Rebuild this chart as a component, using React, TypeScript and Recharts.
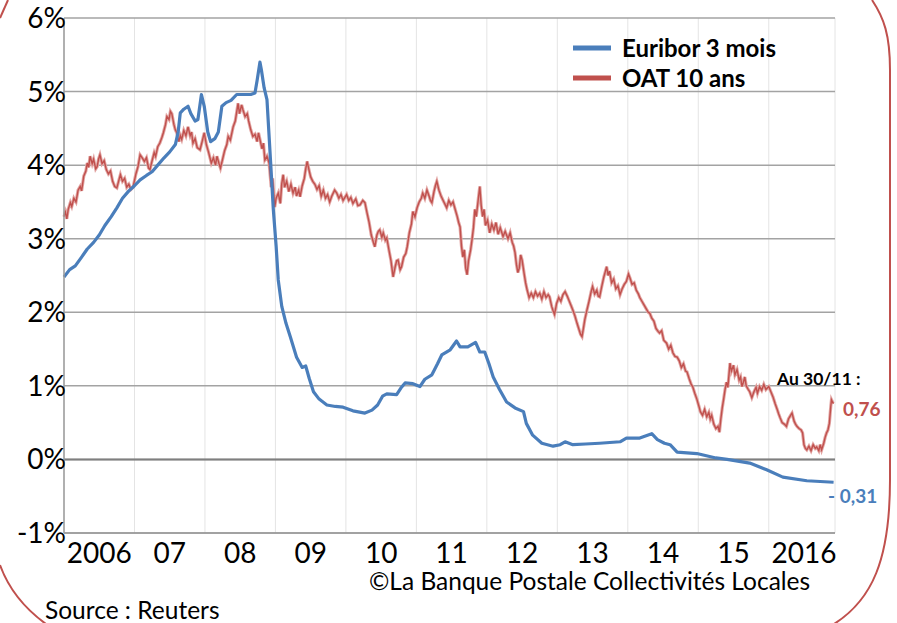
import { LineChart, Line, XAxis, YAxis, CartesianGrid, ReferenceLine } from 'recharts'

// x = fractional year, y = rate in %
const euriborData: [number, number][] = [
  [2006.0, 2.48], [2006.08, 2.58], [2006.16, 2.63], [2006.25, 2.75], [2006.33, 2.86], [2006.42, 2.95],
  [2006.5, 3.05], [2006.58, 3.18], [2006.67, 3.3], [2006.75, 3.42], [2006.83, 3.55], [2006.92, 3.65],
  [2007.0, 3.72], [2007.08, 3.8], [2007.17, 3.86], [2007.25, 3.91], [2007.33, 4.0], [2007.42, 4.1],
  [2007.5, 4.18], [2007.58, 4.28], [2007.62, 4.45], [2007.65, 4.71], [2007.7, 4.76], [2007.76, 4.8],
  [2007.8, 4.7], [2007.86, 4.6], [2007.9, 4.62], [2007.95, 4.96], [2007.99, 4.8], [2008.04, 4.45],
  [2008.08, 4.32], [2008.14, 4.36], [2008.19, 4.45], [2008.24, 4.8], [2008.3, 4.85], [2008.37, 4.88],
  [2008.45, 4.96], [2008.55, 4.96], [2008.65, 4.96], [2008.71, 4.98], [2008.74, 5.15], [2008.78, 5.4],
  [2008.8, 5.3], [2008.84, 5.05], [2008.88, 4.89], [2008.93, 4.07], [2008.97, 3.4], [2009.01, 2.9],
  [2009.04, 2.44], [2009.09, 2.08], [2009.15, 1.85], [2009.21, 1.67], [2009.3, 1.39], [2009.38, 1.25],
  [2009.43, 1.27], [2009.48, 1.1], [2009.54, 0.92], [2009.62, 0.82], [2009.73, 0.74], [2009.85, 0.72],
  [2009.96, 0.71], [2010.1, 0.66], [2010.27, 0.63], [2010.37, 0.67], [2010.45, 0.74], [2010.52, 0.86],
  [2010.58, 0.89], [2010.72, 0.88], [2010.78, 0.97], [2010.84, 1.04], [2010.95, 1.03], [2011.05, 0.99],
  [2011.12, 1.09], [2011.22, 1.15], [2011.3, 1.3], [2011.36, 1.42], [2011.48, 1.49], [2011.57, 1.61],
  [2011.62, 1.53], [2011.73, 1.53], [2011.84, 1.59], [2011.9, 1.46], [2011.97, 1.46], [2012.03, 1.3],
  [2012.09, 1.12], [2012.18, 0.95], [2012.28, 0.78], [2012.4, 0.7], [2012.52, 0.65], [2012.56, 0.49],
  [2012.65, 0.33], [2012.78, 0.22], [2012.94, 0.18], [2013.04, 0.2], [2013.11, 0.24], [2013.22, 0.2],
  [2013.4, 0.21], [2013.6, 0.22], [2013.89, 0.24], [2013.98, 0.29], [2014.17, 0.29], [2014.34, 0.35],
  [2014.42, 0.27], [2014.52, 0.22], [2014.6, 0.2], [2014.7, 0.1], [2014.98, 0.08], [2015.07, 0.06],
  [2015.25, 0.02], [2015.41, 0.0], [2015.73, -0.05], [2015.97, -0.14], [2016.2, -0.24], [2016.54, -0.29],
  [2016.92, -0.31],
]

const oatData: [number, number][] = [
  [2006.0, 3.3], [2006.02, 3.36], [2006.04, 3.27], [2006.06, 3.4], [2006.09, 3.49], [2006.11, 3.44],
  [2006.14, 3.55], [2006.17, 3.5], [2006.2, 3.66], [2006.23, 3.71], [2006.25, 3.65], [2006.28, 3.85],
  [2006.31, 3.92], [2006.33, 4.03], [2006.35, 3.97], [2006.37, 4.12], [2006.4, 4.02], [2006.42, 4.08],
  [2006.45, 3.95], [2006.47, 3.98], [2006.49, 4.08], [2006.51, 4.14], [2006.54, 4.02], [2006.57, 4.06],
  [2006.6, 3.94], [2006.63, 3.88], [2006.66, 3.92], [2006.69, 3.78], [2006.72, 3.71], [2006.75, 3.69],
  [2006.78, 3.8], [2006.8, 3.87], [2006.83, 3.78], [2006.86, 3.82], [2006.89, 3.7], [2006.92, 3.74],
  [2006.95, 3.67], [2006.98, 3.7], [2007.02, 3.88], [2007.05, 3.98], [2007.08, 4.14], [2007.11, 4.1],
  [2007.14, 4.05], [2007.17, 4.1], [2007.2, 3.96], [2007.22, 3.94], [2007.25, 4.06], [2007.28, 4.17],
  [2007.3, 4.12], [2007.33, 4.25], [2007.36, 4.3], [2007.39, 4.38], [2007.41, 4.44], [2007.44, 4.55],
  [2007.46, 4.66], [2007.49, 4.62], [2007.51, 4.73], [2007.53, 4.7], [2007.56, 4.55], [2007.58, 4.48],
  [2007.6, 4.44], [2007.63, 4.32], [2007.65, 4.4], [2007.67, 4.35], [2007.7, 4.47], [2007.73, 4.4],
  [2007.76, 4.52], [2007.79, 4.4], [2007.81, 4.45], [2007.83, 4.3], [2007.86, 4.36], [2007.89, 4.24],
  [2007.93, 4.21], [2007.96, 4.32], [2007.99, 4.44], [2008.02, 4.28], [2008.05, 4.18], [2008.09, 4.03],
  [2008.12, 4.1], [2008.15, 4.0], [2008.17, 4.12], [2008.2, 4.02], [2008.22, 3.96], [2008.25, 4.08],
  [2008.28, 4.2], [2008.31, 4.28], [2008.33, 4.39], [2008.36, 4.34], [2008.4, 4.52], [2008.43, 4.6],
  [2008.45, 4.72], [2008.47, 4.84], [2008.49, 4.7], [2008.52, 4.82], [2008.54, 4.75], [2008.57, 4.66],
  [2008.6, 4.7], [2008.62, 4.6], [2008.65, 4.48], [2008.68, 4.39], [2008.71, 4.42], [2008.74, 4.32],
  [2008.76, 4.44], [2008.78, 4.35], [2008.81, 4.22], [2008.83, 4.3], [2008.85, 4.07], [2008.88, 4.12],
  [2008.91, 4.03], [2008.94, 3.7], [2008.96, 3.82], [2008.99, 3.43], [2009.01, 3.55], [2009.04, 3.62],
  [2009.07, 3.48], [2009.09, 3.75], [2009.11, 3.87], [2009.13, 3.7], [2009.16, 3.78], [2009.19, 3.64],
  [2009.22, 3.74], [2009.25, 3.62], [2009.28, 3.7], [2009.3, 3.58], [2009.33, 3.66], [2009.35, 3.57],
  [2009.38, 3.72], [2009.41, 3.82], [2009.43, 3.95], [2009.45, 4.05], [2009.48, 3.92], [2009.5, 3.84],
  [2009.53, 3.78], [2009.56, 3.74], [2009.59, 3.67], [2009.62, 3.72], [2009.65, 3.58], [2009.68, 3.66],
  [2009.71, 3.55], [2009.74, 3.6], [2009.77, 3.5], [2009.8, 3.58], [2009.84, 3.66], [2009.87, 3.62],
  [2009.9, 3.55], [2009.93, 3.6], [2009.96, 3.52], [2010.01, 3.6], [2010.04, 3.52], [2010.07, 3.56],
  [2010.1, 3.48], [2010.14, 3.54], [2010.17, 3.45], [2010.2, 3.46], [2010.24, 3.52], [2010.27, 3.49],
  [2010.3, 3.35], [2010.33, 3.22], [2010.36, 3.05], [2010.39, 2.95], [2010.41, 2.89], [2010.44, 3.05],
  [2010.46, 3.1], [2010.48, 3.12], [2010.51, 3.02], [2010.53, 3.08], [2010.56, 2.98], [2010.58, 3.01],
  [2010.61, 2.85], [2010.64, 2.7], [2010.67, 2.48], [2010.7, 2.62], [2010.72, 2.7], [2010.74, 2.71],
  [2010.77, 2.58], [2010.79, 2.62], [2010.82, 2.75], [2010.85, 2.8], [2010.87, 2.89], [2010.9, 3.08],
  [2010.93, 3.2], [2010.95, 3.37], [2010.98, 3.3], [2011.01, 3.42], [2011.04, 3.5], [2011.07, 3.55],
  [2011.09, 3.62], [2011.12, 3.55], [2011.15, 3.66], [2011.18, 3.58], [2011.2, 3.52], [2011.22, 3.49],
  [2011.25, 3.64], [2011.27, 3.72], [2011.29, 3.78], [2011.32, 3.66], [2011.35, 3.58], [2011.38, 3.52],
  [2011.41, 3.46], [2011.43, 3.42], [2011.46, 3.52], [2011.49, 3.46], [2011.52, 3.5], [2011.55, 3.4],
  [2011.58, 3.3], [2011.6, 3.22], [2011.62, 3.16], [2011.64, 2.9], [2011.66, 2.75], [2011.68, 2.85],
  [2011.7, 2.6], [2011.72, 2.51], [2011.74, 2.7], [2011.77, 2.85], [2011.79, 2.99], [2011.81, 3.15],
  [2011.83, 3.4], [2011.85, 3.3], [2011.88, 3.55], [2011.9, 3.71], [2011.92, 3.45], [2011.94, 3.3],
  [2011.96, 3.4], [2011.98, 3.18], [2012.01, 3.25], [2012.04, 3.08], [2012.07, 3.2], [2012.1, 3.12],
  [2012.13, 3.22], [2012.16, 3.06], [2012.19, 3.15], [2012.23, 3.03], [2012.26, 3.1], [2012.3, 3.0],
  [2012.33, 3.08], [2012.36, 2.95], [2012.38, 2.9], [2012.4, 2.81], [2012.42, 2.65], [2012.44, 2.54],
  [2012.46, 2.6], [2012.48, 2.78], [2012.5, 2.71], [2012.53, 2.52], [2012.55, 2.4], [2012.57, 2.31],
  [2012.6, 2.2], [2012.63, 2.26], [2012.66, 2.2], [2012.69, 2.28], [2012.72, 2.22], [2012.75, 2.26],
  [2012.78, 2.18], [2012.81, 2.28], [2012.84, 2.2], [2012.87, 2.24], [2012.89, 2.21], [2012.92, 2.08],
  [2012.94, 2.02], [2012.96, 1.97], [2012.99, 2.12], [2013.02, 2.2], [2013.05, 2.15], [2013.08, 2.24],
  [2013.11, 2.28], [2013.14, 2.22], [2013.17, 2.15], [2013.2, 2.08], [2013.22, 2.03], [2013.25, 1.95],
  [2013.28, 1.85], [2013.31, 1.76], [2013.33, 1.7], [2013.35, 1.67], [2013.37, 1.78], [2013.39, 1.9],
  [2013.42, 2.03], [2013.45, 2.15], [2013.48, 2.28], [2013.5, 2.35], [2013.53, 2.25], [2013.56, 2.3],
  [2013.58, 2.22], [2013.6, 2.21], [2013.63, 2.35], [2013.66, 2.48], [2013.68, 2.55], [2013.7, 2.62],
  [2013.72, 2.5], [2013.74, 2.56], [2013.77, 2.4], [2013.8, 2.45], [2013.83, 2.32], [2013.86, 2.36],
  [2013.89, 2.24], [2013.92, 2.32], [2013.95, 2.38], [2013.98, 2.42], [2014.01, 2.52], [2014.03, 2.47],
  [2014.06, 2.38], [2014.09, 2.4], [2014.12, 2.3], [2014.15, 2.25], [2014.17, 2.2], [2014.2, 2.15],
  [2014.23, 2.1], [2014.26, 2.05], [2014.29, 2.0], [2014.31, 1.99], [2014.34, 1.92], [2014.37, 1.88],
  [2014.4, 1.78], [2014.43, 1.74], [2014.45, 1.72], [2014.48, 1.75], [2014.51, 1.62], [2014.55, 1.58],
  [2014.58, 1.5], [2014.61, 1.55], [2014.64, 1.45], [2014.67, 1.4], [2014.7, 1.39], [2014.73, 1.34],
  [2014.76, 1.25], [2014.79, 1.3], [2014.82, 1.2], [2014.84, 1.19], [2014.87, 1.1], [2014.9, 1.02],
  [2014.92, 0.99], [2014.95, 0.9], [2014.98, 0.82], [2015.01, 0.72], [2015.03, 0.65], [2015.06, 0.6],
  [2015.09, 0.68], [2015.12, 0.58], [2015.15, 0.64], [2015.17, 0.55], [2015.19, 0.6], [2015.22, 0.48],
  [2015.25, 0.42], [2015.28, 0.45], [2015.3, 0.37], [2015.32, 0.55], [2015.34, 0.7], [2015.36, 0.82],
  [2015.38, 0.95], [2015.4, 1.05], [2015.42, 0.98], [2015.45, 1.31], [2015.47, 1.2], [2015.5, 1.28],
  [2015.52, 1.15], [2015.55, 1.22], [2015.58, 1.08], [2015.6, 1.12], [2015.62, 0.99], [2015.64, 1.05],
  [2015.66, 1.12], [2015.68, 1.0], [2015.71, 0.95], [2015.73, 0.92], [2015.76, 0.84], [2015.79, 0.92],
  [2015.82, 0.98], [2015.84, 0.9], [2015.87, 0.99], [2015.9, 0.94], [2015.93, 1.02], [2015.96, 0.95],
  [2016.0, 0.99], [2016.03, 0.92], [2016.06, 0.85], [2016.09, 0.76], [2016.12, 0.68], [2016.14, 0.62],
  [2016.16, 0.57], [2016.19, 0.5], [2016.22, 0.48], [2016.25, 0.45], [2016.28, 0.55], [2016.31, 0.6],
  [2016.33, 0.63], [2016.36, 0.52], [2016.38, 0.48], [2016.4, 0.45], [2016.43, 0.42], [2016.46, 0.4],
  [2016.48, 0.36], [2016.5, 0.2], [2016.52, 0.15], [2016.54, 0.13], [2016.57, 0.18], [2016.6, 0.12],
  [2016.63, 0.2], [2016.66, 0.15], [2016.68, 0.17], [2016.71, 0.12], [2016.73, 0.2], [2016.75, 0.13],
  [2016.78, 0.22], [2016.8, 0.3], [2016.82, 0.36], [2016.84, 0.4], [2016.86, 0.49], [2016.88, 0.72],
  [2016.89, 0.81], [2016.91, 0.77], [2016.92, 0.76],
]

const yearStarts = [2006, 2007, 2008, 2009, 2010, 2011, 2012, 2013, 2014, 2015, 2016]
const yearLabels = ['2006', '07', '08', '09', '10', '11', '12', '13', '14', '15', '2016']
const yTicks = [-1, 0, 1, 2, 3, 4, 5, 6]

const BLUE = '#4a7ebb'
const RED = '#c0504d'
const FONT = 'Lato, "Open Sans", sans-serif'

const euribor = euriborData.map(([t, v]) => ({ t, v }))
const oat = oatData.map(([t, v]) => ({ t, v }))
const fr = (n: number) => (n < 0 ? '- ' : '') + Math.abs(n).toFixed(2).replace('.', ',')

export default function App() {
  const lastOat = oatData[oatData.length - 1][1]
  const lastEur = euriborData[euriborData.length - 1][1]
  return (
    <div style={{ position: 'absolute', left: 0, top: 0, width: 897, height: 623, background: '#fff', fontFamily: FONT }}>
      <LineChart width={897} height={623} data={oat} margin={{ top: 18, right: 62, bottom: 60, left: 4 }}>
        <XAxis xAxisId="grid" type="number" dataKey="t" domain={[2006, 2016.94]} ticks={yearStarts.slice(1)} hide />
        <CartesianGrid xAxisId="grid" horizontal={false} stroke="#e4e4e4" />
        <CartesianGrid vertical={false} stroke="#a3a3a3" strokeWidth={1.5} />
        <XAxis
          type="number"
          dataKey="t"
          domain={[2006, 2016.94]}
          ticks={yearStarts.map((y) => y + 0.5)}
          tickFormatter={(_v: number, i: number) => yearLabels[i]}
          interval={0}
          height={30}
          axisLine={{ stroke: '#9a9a9a', strokeWidth: 1.5 }}
          tickLine={false}
          tick={{ fontSize: 28, fill: '#000', fontFamily: FONT, dy: 2 }}
        />
        <YAxis
          type="number"
          domain={[-1, 6]}
          ticks={yTicks}
          width={60}
          tickFormatter={(v: number) => `${v}%`}
          axisLine={{ stroke: '#9a9a9a', strokeWidth: 1.5 }}
          tickLine={false}
          tickSize={0}
          tickMargin={-2}
          tick={{ fontSize: 28, fill: '#000', fontFamily: FONT }}
        />
        <ReferenceLine y={0} stroke="#7f7f7f" strokeWidth={2} />
        <Line data={oat} dataKey="v" type="linear" stroke="#e2a6a4" strokeWidth={3.2} dot={false} isAnimationActive={false} />
        <Line data={oat} dataKey="v" type="linear" stroke={RED} strokeWidth={1.4} dot={false} isAnimationActive={false} />
        <Line data={euribor} dataKey="v" type="linear" stroke={BLUE} strokeWidth={3.2} dot={false} isAnimationActive={false} strokeLinejoin="round" />
      </LineChart>
      <svg width={897} height={623} style={{ position: 'absolute', left: 0, top: 0, pointerEvents: 'none' }}>
        <g fill="none" stroke={RED} strokeWidth={2}>
          <path d="M 0 18 L 8 0" />
          <path d="M 872 0 C 884 18, 890 35, 890 70 L 890 480 C 890 560, 872 600, 834 624" />
          <path d="M 0 565 C 9 590, 24 608, 46 624" />
        </g>
        <line x1={573} y1={48} x2={611} y2={48} stroke={BLUE} strokeWidth={5} />
        <line x1={573} y1={78} x2={611} y2={78} stroke={RED} strokeWidth={5} />
        <text x={622} y={57} fontSize={24} fontWeight="bold" fill="#000">Euribor 3 mois</text>
        <text x={622} y={87} fontSize={24} fontWeight="bold" fill="#000">OAT 10 ans</text>
        <text x={777} y={385} fontSize={17.5} fontWeight="bold" fill="#000">Au 30/11 :</text>
        <text x={843} y={416} fontSize={19} fontWeight="bold" fill={RED}>{fr(lastOat)}</text>
        <text x={828} y={503} fontSize={19} fontWeight="bold" fill={BLUE}>{fr(lastEur)}</text>
        <text x={369} y={590} fontSize={24.5} fill="#000">©La Banque Postale Collectivités Locales</text>
        <text x={45} y={619} fontSize={24.5} fill="#000">Source : Reuters</text>
      </svg>
    </div>
  )
}
